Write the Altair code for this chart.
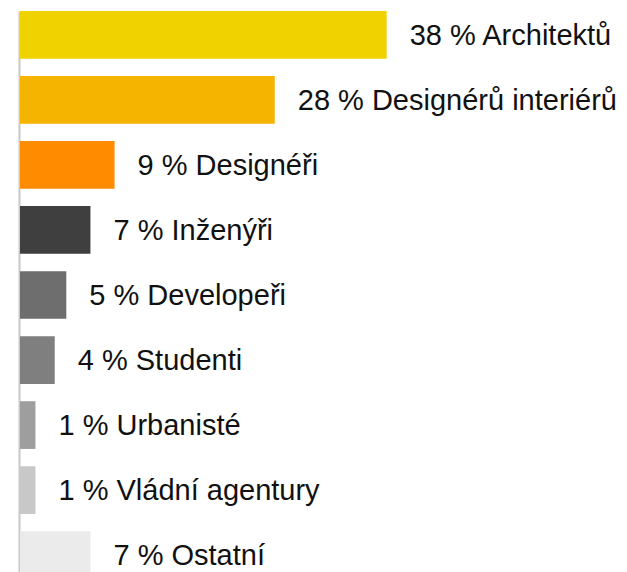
import altair as alt
import pandas as pd

# Data
names = ["Architektů", "Designérů interiérů", "Designéři", "Inženýři", "Developeři",
         "Studenti", "Urbanisté", "Vládní agentury", "Ostatní"]
percent_labels = [38, 28, 9, 7, 5, 4, 1, 1, 7]
# bar lengths as drawn (in % units)
bar_lengths = [38, 26.4, 9.8, 7.3, 4.8, 3.6, 1.6, 1.6, 7.3]
colors = ["#EFD200", "#F5B400", "#FF8C00", "#3F3F3F", "#6E6E6E",
          "#7F7F7F", "#9E9E9E", "#C8C8C8", "#EBEBEB"]

df = pd.DataFrame({
    "name": names,
    "pct": percent_labels,
    "length": bar_lengths,
    "color": colors,
})
df["label"] = [f"{p} % {n}" for p, n in zip(percent_labels, names)]

y_enc = alt.Y(
    "name:N",
    sort=names,
    scale=alt.Scale(paddingInner=0.266, paddingOuter=0),
    axis=alt.Axis(domain=True, domainColor="#C8C8C8", domainWidth=2,
                  labels=False, ticks=False, grid=False, title=None, offset=1),
)
x_enc = alt.X("length:Q", scale=alt.Scale(domain=[0, 60], nice=False, zero=True), axis=None)

bars = alt.Chart(df).mark_bar().encode(
    x=x_enc,
    y=y_enc,
    color=alt.Color("color:N", scale=None),
)

texts = alt.Chart(df).mark_text(
    align="left", baseline="middle", dx=23, dy=1, font="Liberation Sans",
    fontSize=29, color="#111111",
).encode(
    x=x_enc,
    y=alt.Y("name:N", sort=names),
    text="label:N",
)

chart = alt.layer(bars, texts).properties(
    width=579,
    height=568,
    padding={"left": 12, "top": 3, "right": 20, "bottom": 0},
    autosize=alt.AutoSizeParams(type="none"),
).configure_view(stroke=None)

chart.save("out.html", embed_options={"renderer": "svg", "actions": False})
